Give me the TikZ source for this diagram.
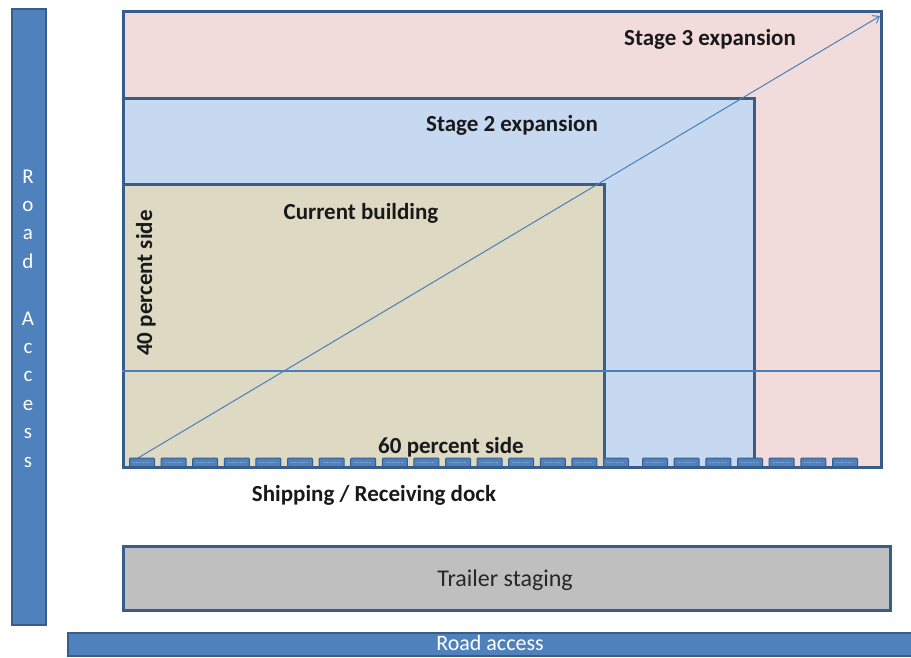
\documentclass[tikz,border=0pt]{standalone}
\usepackage{fontspec}
\setmainfont{Carlito}
\usetikzlibrary{arrows.meta}

\definecolor{stagethree}{HTML}{F2DCDB}
\definecolor{stagetwo}{HTML}{C6D9F1}
\definecolor{current}{HTML}{DDD9C3}
\definecolor{edge}{HTML}{385D8A}
\definecolor{road}{HTML}{4F81BD}
\definecolor{staging}{HTML}{BFBFBF}
\definecolor{guide}{HTML}{4A7EBB}
\definecolor{doorstripe}{HTML}{7FA3D4}

\begin{document}
\begin{tikzpicture}[x=1pt,y=-1pt,
  area/.style={draw=edge, line width=2.7pt, inner sep=0pt, anchor=north west},
  roadbar/.style={area, fill=road, line width=2pt},
  label/.style={font=\fontsize{23}{27}\selectfont\bfseries, text=black!90, inner sep=0pt, anchor=base},
  roadtext/.style={font=\fontsize{21}{25}\selectfont, text=white, inner sep=0pt, anchor=base},
  door/.style={draw=edge, fill=road, line width=1pt, rounded corners=1pt, inner sep=0pt,
               minimum width=25pt, minimum height=8.5pt, anchor=north west},
  guideline/.style={draw=guide, line width=1.2pt}]

  % page
  \fill[white] (0,0) rectangle (911,657);
  \useasboundingbox (0,0) rectangle (911,657);

  % side road
  \node[roadbar, minimum width=34pt, minimum height=616pt] (sideroad) at (11,8) {};
  \foreach \ch [count=\i from 0] in {R,o,a,d,{},A,c,c,e,s,s}
    \node[roadtext] (letter\i) at (28,{183+28.4*\i}) {\ch};

  % building footprints, largest first
  \node[area, fill=stagethree, minimum width=758pt, minimum height=456pt] (stage3) at (122,10) {};
  \node[area, fill=stagetwo,   minimum width=631pt, minimum height=369pt] (stage2) at (122,97) {};
  \node[area, fill=current,    minimum width=481pt, minimum height=283pt] (bldg)   at (122,183) {};

  % 40 percent line and growth diagonal
  \coordinate (lineL) at (122,371);
  \coordinate (lineR) at (880,371);
  \draw[guideline] (lineL) -- (lineR);
  \coordinate (diagStart) at (138,458);
  \coordinate (diagEnd) at (880,16);
  \draw[guideline, line width=1pt, -{Straight Barb[length=6pt,width=9pt]}] (diagStart) -- (diagEnd);

  % dock doors
  \foreach \i in {0,...,15}{
    \node[door] (doorA\i) at ({129+31.6*\i},457.5) {};
    \draw[doorstripe, line width=0.8pt, dash pattern=on 2pt off 1pt]
      ([xshift=4pt]doorA\i.west) -- ([xshift=-4pt]doorA\i.east);
  }
  \foreach \i in {0,...,6}{
    \node[door] (doorB\i) at ({642+31.67*\i},457.5) {};
    \draw[doorstripe, line width=0.8pt, dash pattern=on 2pt off 1pt]
      ([xshift=4pt]doorB\i.west) -- ([xshift=-4pt]doorB\i.east);
  }

  % labels
  \node[label] (s3label) at (710,45) {Stage 3 expansion};
  \node[label] (s2label) at (512,131) {Stage 2 expansion};
  \node[label] (bldglabel) at (361,219) {Current building};
  \node[label, rotate=90] (side40) at (152,283) {40 percent side};
  \node[label] (side60) at (451,453) {60 percent side};
  \node[label] (dock) at (374,501) {Shipping / Receiving dock};

  % trailer staging and front road
  \node[area, fill=staging, minimum width=767pt, minimum height=64pt] (trailer) at (122,545) {};
  \node[font=\fontsize{24}{28}\selectfont, text=black!85, inner sep=0pt, anchor=base] (trailerlabel) at (505,586) {Trailer staging};
  \node[roadbar, minimum width=850pt, minimum height=23pt] (frontroad) at (67,632) {};
  \node[font=\fontsize{22}{26}\selectfont, text=white, inner sep=0pt, anchor=base] (frontlabel) at (490,650.5) {Road access};
\end{tikzpicture}
\end{document}
